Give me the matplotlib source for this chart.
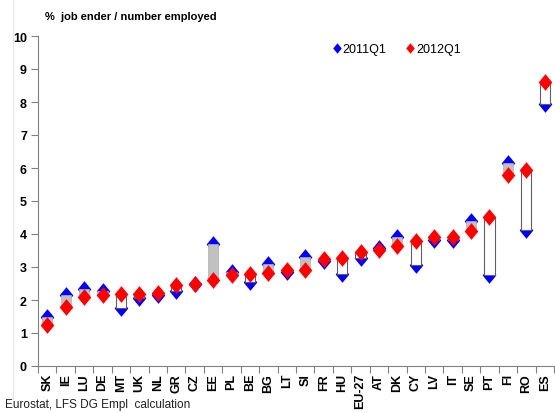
import numpy as np
import matplotlib.pyplot as plt
from matplotlib.path import Path
from matplotlib.lines import Line2D

plt.rcParams['font.family'] = ['Liberation Sans', 'DejaVu Sans']

countries = ['SK', 'IE', 'LU', 'DE', 'MT', 'UK', 'NL', 'GR', 'CZ', 'EE', 'PL', 'BE', 'BG', 'LT',
             'SI', 'FR', 'HU', 'EU-27', 'AT', 'DK', 'CY', 'LV', 'IT', 'SE', 'PT', 'FI', 'RO', 'ES']
q2011 = [1.50, 2.15, 2.33, 2.28, 1.77, 2.05, 2.15, 2.27, 2.47, 3.70, 2.85, 2.55, 3.10, 2.85,
         3.30, 3.18, 2.80, 3.28, 3.58, 3.90, 3.05, 3.82, 3.83, 4.40, 2.75, 6.15, 4.12, 7.95]
q2012 = [1.23, 1.80, 2.10, 2.15, 2.18, 2.18, 2.22, 2.45, 2.47, 2.62, 2.75, 2.78, 2.83, 2.92,
         2.92, 3.23, 3.27, 3.45, 3.53, 3.63, 3.80, 3.90, 3.90, 4.10, 4.52, 5.80, 5.95, 8.60]

# diamond a bit taller than wide
diamond = Path([(0, 1), (0.82, 0), (0, -1), (-0.82, 0), (0, 1)],
               [Path.MOVETO, Path.LINETO, Path.LINETO, Path.LINETO, Path.CLOSEPOLY])

fig = plt.figure(figsize=(5.55, 4.14), dpi=100)
ax = fig.add_axes([38 / 555, 47 / 414, 516 / 555, 330 / 414])

x = np.arange(len(countries))
a = np.array(q2011)
b = np.array(q2012)
low = np.minimum(a, b)
rising = b >= a

ax.plot(x, a, linestyle='none', marker=diamond, markersize=12, color='#0000ff',
        markeredgewidth=0, zorder=2)
ax.bar(x[rising], (b - a)[rising], bottom=low[rising], width=0.55, color='white',
       edgecolor='#606060', linewidth=0.8, zorder=3)
ax.bar(x[~rising], (a - b)[~rising], bottom=low[~rising], width=0.55, color='#c0c0c0',
       edgecolor='#b0b0b0', linewidth=0.5, zorder=3)
ax.plot(x, b, linestyle='none', marker=diamond, markersize=12, color='#ff0000',
        markeredgewidth=0, zorder=4)

ax.set_xlim(-0.5, len(countries) - 0.5)
ax.set_ylim(0, 10)
ax.set_yticks(range(0, 11))
ax.set_yticklabels([str(v) for v in range(0, 11)], fontweight='bold', fontsize=9)
ax.set_xticks(x)
ax.set_xticklabels(countries, rotation=90, fontweight='bold', fontsize=9)
ax.set_xticks(np.arange(-0.5, len(countries)), minor=True)
ax.tick_params(axis='x', which='major', length=0, pad=5)
ax.tick_params(axis='x', which='minor', length=5, width=0.8, color='#808080')
ax.tick_params(axis='y', length=5, width=0.8, color='#808080', pad=3)

for side in ['top', 'right']:
    ax.spines[side].set_visible(False)
for side in ['left', 'bottom']:
    ax.spines[side].set_color('#808080')
    ax.spines[side].set_linewidth(0.8)

handles = [Line2D([], [], linestyle='none', marker=diamond, markersize=7.5, color='#0000ff',
                  markeredgewidth=0, label='2011Q1'),
           Line2D([], [], linestyle='none', marker=diamond, markersize=7.5, color='#ff0000',
                  markeredgewidth=0, label='2012Q1')]
ax.legend(handles=handles, loc='center left', bbox_to_anchor=(327 / 555, 1 - 50 / 414),
          bbox_transform=fig.transFigure, ncol=2, frameon=False, fontsize=9,
          handlelength=0.6, handletextpad=0.15, columnspacing=1.6, borderpad=0)

fig.text(45 / 555, 1 - 17 / 414, '%  job ender / number employed', fontsize=8,
         fontweight='bold', va='center', ha='left')
fig.text(5 / 555, 1 - 405 / 414, 'Eurostat, LFS DG Empl  calculation', fontsize=8.5,
         va='center', ha='left', color='#202020')
fig.add_artist(Line2D([13 / 555, 13 / 555], [1 - 400 / 414, 1], color='#e6e6e6', linewidth=0.8))

fig.savefig('out.png', dpi=100)
